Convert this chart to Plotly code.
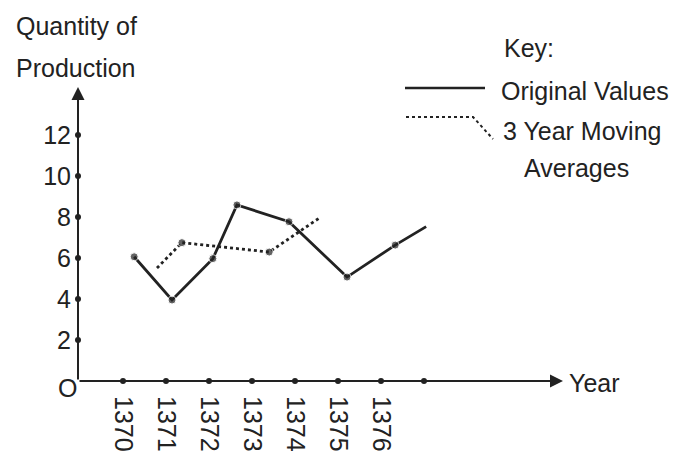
import plotly.graph_objects as go

# values (years drawn a little loosely, as in the original)
orig_years = [1370.26, 1371.14, 1372.09, 1372.65, 1373.86, 1375.21, 1376.33, 1377.05]
orig_values = [6.06, 3.95, 5.97, 8.59, 7.77, 5.07, 6.63, 7.53]

avg_years = [1370.79, 1371.37, 1373.40, 1374.58]
avg_values = [5.51, 6.75, 6.29, 7.97]

year_ticks = [1370, 1371, 1372, 1373, 1374, 1375, 1376]
year_dots = [1370, 1371, 1372, 1373, 1374, 1375, 1376, 1377]
qty_ticks = [2, 4, 6, 8, 10, 12]

INK = '#222222'
FONT = 'Liberation Sans, Arial, sans-serif'

# plot area in pixels: left 78, right 620, top 20, bottom 381
L, R, T, B = 78, 620, 20, 381
x0 = 1370 - 45 / 43
x1 = 1370 + (620 - 123) / 43
y_top = (B - T) / 20.5


def px(x):
    return (x - L) / (R - L)


def py(y):
    return (B - y) / (B - T)


fig = go.Figure()

# original values
fig.add_trace(go.Scatter(
    x=orig_years, y=orig_values, mode='lines+markers',
    line=dict(color=INK, width=2.8),
    marker=dict(color=INK, size=[8] * (len(orig_years) - 1) + [0]),
    showlegend=False,
))

# 3 year moving averages
fig.add_trace(go.Scatter(
    x=avg_years, y=avg_values, mode='lines+markers',
    line=dict(color=INK, width=2.8, dash='dot'),
    marker=dict(color=INK, size=[0] + [8] * (len(avg_years) - 2) + [0]),
    showlegend=False,
))

# tick dots along both axes
fig.add_trace(go.Scatter(
    x=year_dots, y=[0] * len(year_dots), mode='markers',
    marker=dict(color=INK, size=6), cliponaxis=False, showlegend=False,
))
fig.add_trace(go.Scatter(
    x=[x0] * len(qty_ticks), y=qty_ticks, mode='markers',
    marker=dict(color=INK, size=6), cliponaxis=False, showlegend=False,
))

# axes with arrow heads
fig.add_annotation(x=1370 + 440 / 43, y=0, ax=x0, ay=0, axref='x', ayref='y',
                   text='', showarrow=True, arrowhead=2, arrowsize=1.3,
                   arrowwidth=2, arrowcolor=INK, standoff=0, startstandoff=0)
fig.add_annotation(x=x0, y=(B - 87) / 20.5, ax=x0, ay=0, axref='x', ayref='y',
                   text='', showarrow=True, arrowhead=2, arrowsize=1.3,
                   arrowwidth=2, arrowcolor=INK, standoff=0, startstandoff=0)

texts = [
    ('Quantity of', 14, 26),
    ('Production', 14, 68),
    ('O', 56, 388),
    ('Year', 567, 383),
    ('Key:', 502, 48),
    ('Original Values', 499, 91),
    ('3 Year Moving', 501, 131),
    ('Averages', 522, 168),
]
for t, tx, ty in texts:
    fig.add_annotation(x=px(tx), y=py(ty), xref='paper', yref='paper',
                       text=t, showarrow=False, xanchor='left', yanchor='middle',
                       font=dict(size=25, color=INK, family=FONT))

# key samples
fig.add_shape(type='line', xref='paper', yref='paper',
              x0=px(405), y0=py(88), x1=px(485), y1=py(88),
              line=dict(color=INK, width=2.5))
fig.add_shape(type='path', xref='paper', yref='paper',
              path=f'M {px(406)},{py(117)} L {px(473)},{py(117)} L {px(493)},{py(139)}',
              line=dict(color=INK, width=2, dash='dot'))

fig.update_xaxes(range=[x0, x1], tickvals=year_ticks, ticktext=[str(y) for y in year_ticks],
                 tickangle=90, showgrid=False, zeroline=False, showline=False, ticks='',
                 automargin=False, ticklabelstandoff=14,
                 tickfont=dict(size=25, color=INK, family=FONT))
fig.update_yaxes(range=[0, y_top], tickvals=qty_ticks, showgrid=False, zeroline=False,
                 showline=False, ticks='', automargin=False, ticklabelstandoff=6,
                 tickfont=dict(size=25, color=INK, family=FONT))

fig.update_layout(width=680, height=458, margin=dict(l=L, r=680 - R, t=T, b=458 - B),
                  plot_bgcolor='white', paper_bgcolor='white')

# drop the page's default body margin so the figure sits at the window's corner
fig.write_html('out.html', config={'displayModeBar': False},
               post_script="document.body.style.margin='0';")
